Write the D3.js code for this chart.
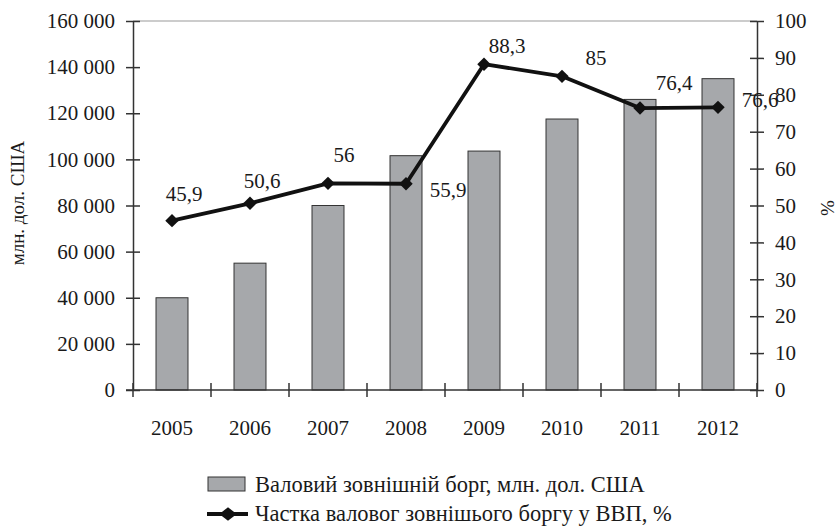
<!DOCTYPE html>
<html>
<head>
<meta charset="utf-8">
<script src="https://cdn.jsdelivr.net/npm/d3@7"></script>
<style>
    body { margin: 0; background: #fff; }
    svg { display: block; }
</style>
</head>
<body>
<script>
/* ===== data ===== */
var years = ["2005", "2006", "2007", "2008", "2009", "2010", "2011", "2012"];
var debt = [40000, 55000, 80000, 101600, 103600, 117500, 126000, 135000];
var share = [45.9, 50.6, 56, 55.9, 88.3, 85, 76.4, 76.6];
var shareLabels = ["45,9", "50,6", "56", "55,9", "88,3", "85", "76,4", "76,6"];
var leftTicks = [0, 20000, 40000, 60000, 80000, 100000, 120000, 140000, 160000];
var rightTicks = [0, 10, 20, 30, 40, 50, 60, 70, 80, 90, 100];
// label offsets from point (hand-placed like in the original)
var labelDx = [12, 12, 16, 42, 23, 34, 34, 42];
var labelDy = [-20, -15, -21, 13, -11, -11, -18, 0];

var barName = "Валовий зовнішній борг, млн. дол. США";
var lineName = "Частка валовог зовнішього боргу у ВВП, %";

/* ===== constants ===== */
var w = 838, h = 527;
var plotLeft = 133, plotRight = 757, plotTop = 21, plotBottom = 390;
var barColor = "#a6a8ab";
var axisColor = "#333";
var textColor = "#1a1a1a";
var serif = "'Liberation Serif', 'Times New Roman', serif";
var fontSize = "21px";
var legendSize = "22.5px";

var svg = d3.select("body").append("svg")
    .attr("width", w)
    .attr("height", h);

var x = d3.scaleBand().domain(years).range([plotLeft, plotRight]).paddingInner(0.59).paddingOuter(0.295);
var xTick = d3.scaleBand().domain(years).range([plotLeft, plotRight]);
var yLeft = d3.scaleLinear().domain([0, 160000]).range([plotBottom, plotTop]);
var yRight = d3.scaleLinear().domain([0, 100]).range([plotBottom, plotTop]);

// top border line
svg.append("line")
    .attr("x1", plotLeft).attr("x2", plotRight)
    .attr("y1", plotTop).attr("y2", plotTop)
    .attr("stroke", "#999").attr("stroke-width", 1);

// bars
svg.selectAll("rect.bar")
    .data(debt)
    .enter().append("rect")
    .attr("class", "bar")
    .attr("x", function (d, i) { return x(years[i]); })
    .attr("y", function (d) { return yLeft(d); })
    .attr("width", x.bandwidth())
    .attr("height", function (d) { return plotBottom - yLeft(d); })
    .attr("fill", barColor)
    .attr("stroke", "#333")
    .attr("stroke-width", 1);

var fmt = function (d) { return d3.format(",")(d).replace(/,/g, " "); };

// left axis
var gl = svg.append("g")
    .attr("transform", "translate(" + plotLeft + ",0)")
    .call(d3.axisLeft(yLeft).tickValues(leftTicks).tickFormat(fmt).tickSizeInner(7).tickSizeOuter(0).tickPadding(11));
gl.selectAll(".tick line").attr("x1", 7);

// right axis
var gr = svg.append("g")
    .attr("transform", "translate(" + plotRight + ",0)")
    .call(d3.axisRight(yRight).tickValues(rightTicks).tickSizeInner(7).tickSizeOuter(0).tickPadding(11));
gr.selectAll(".tick line").attr("x1", -7);

// x axis with boundary ticks
var gx = svg.append("g")
    .attr("transform", "translate(0," + plotBottom + ")");
gx.append("line")
    .attr("x1", plotLeft - 7).attr("x2", plotRight)
    .attr("stroke", axisColor).attr("stroke-width", 1.5);
gx.selectAll("line.bt")
    .data(years.concat(["end"]))
    .enter().append("line")
    .attr("class", "bt")
    .attr("x1", function (d, i) { return plotLeft + i * xTick.step(); })
    .attr("x2", function (d, i) { return plotLeft + i * xTick.step(); })
    .attr("y1", -7).attr("y2", 7)
    .attr("stroke", axisColor).attr("stroke-width", 1.5);
gx.selectAll("text.yr")
    .data(years)
    .enter().append("text")
    .attr("class", "yr")
    .attr("x", function (d) { return xTick(d) + xTick.bandwidth() / 2; })
    .attr("y", 45)
    .attr("text-anchor", "middle")
    .style("font-size", fontSize)
    .text(function (d) { return d; });

[gl, gr].forEach(function (g) {
    g.attr("font-family", null).attr("font-size", null);
    g.select(".domain").attr("stroke", axisColor).attr("stroke-width", 1.5);
    g.selectAll(".tick line").attr("stroke", axisColor).attr("stroke-width", 1.5);
    g.selectAll(".tick text").style("font-size", fontSize);
});

// axis titles
svg.append("text")
    .attr("transform", "translate(24,203) rotate(-90)")
    .attr("text-anchor", "middle")
    .style("font-size", "19px")
    .text("млн. дол. США");
svg.append("text")
    .attr("transform", "translate(834,208) rotate(-90)")
    .attr("text-anchor", "middle")
    .style("font-size", "19px")
    .text("%");

// line
var cx = function (i) { return x(years[i]) + x.bandwidth() / 2; };
var line = d3.line()
    .x(function (d, i) { return cx(i); })
    .y(function (d) { return yRight(d); });
svg.append("path")
    .datum(share)
    .attr("fill", "none")
    .attr("stroke", "#111")
    .attr("stroke-width", 3.8)
    .attr("stroke-linejoin", "round")
    .attr("d", line);

var diamond = d3.symbol().type(d3.symbolDiamond2).size(115);
svg.selectAll("path.pt")
    .data(share)
    .enter().append("path")
    .attr("class", "pt")
    .attr("transform", function (d, i) { return "translate(" + cx(i) + "," + yRight(d) + ")"; })
    .attr("d", diamond)
    .attr("fill", "#111");

svg.selectAll("text.lbl")
    .data(share)
    .enter().append("text")
    .attr("class", "lbl")
    .attr("x", function (d, i) { return cx(i) + labelDx[i]; })
    .attr("y", function (d, i) { return yRight(d) + labelDy[i]; })
    .attr("text-anchor", "middle")
    .style("font-size", fontSize)
    .text(function (d, i) { return shareLabels[i]; });

// legend
var lg = svg.append("g");
lg.append("rect")
    .attr("x", 208).attr("y", 477)
    .attr("width", 37).attr("height", 14)
    .attr("fill", barColor).attr("stroke", "#333").attr("stroke-width", 1);
lg.append("text")
    .attr("x", 255).attr("y", 492)
    .style("font-size", legendSize)
    .text(barName);
lg.append("line")
    .attr("x1", 207).attr("x2", 248)
    .attr("y1", 514).attr("y2", 514)
    .attr("stroke", "#111").attr("stroke-width", 3.8);
lg.append("path")
    .attr("transform", "translate(228,514) scale(1.3,1)")
    .attr("d", diamond)
    .attr("fill", "#111");
lg.append("text")
    .attr("x", 255).attr("y", 521)
    .style("font-size", legendSize)
    .text(lineName);

// one font for every text
svg.selectAll("text")
    .style("font-family", serif)
    .style("fill", textColor);
</script>
</body>
</html>
